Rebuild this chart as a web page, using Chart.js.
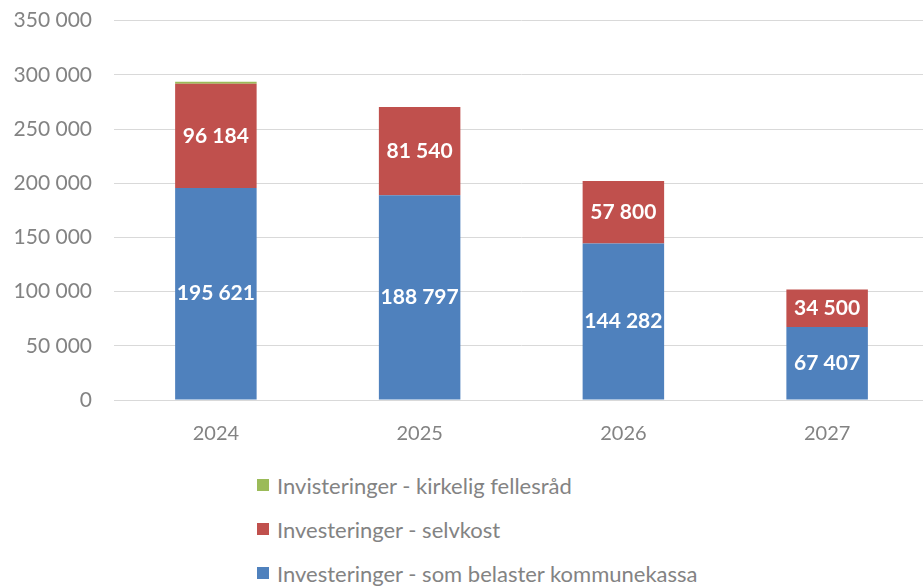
<!DOCTYPE html>
<html>
<head>
<meta charset="utf-8">
<script src="https://cdn.jsdelivr.net/npm/chart.js@4/dist/chart.umd.min.js"></script>
<style>
  html, body { margin: 0; padding: 0; background: #fff; overflow: hidden; }
  #wrap { position: relative; width: 923px; height: 586px; overflow: hidden; }
  #box { position: absolute; left: 0; top: -14px; width: 929px; height: 466px; }
  #legend { position: absolute; left: 257px; top: 463px; font-family: Lato, "Open Sans", sans-serif;
            font-size: 22px; color: #838383; }
  #legend div { height: 44px; display: flex; align-items: center; white-space: nowrap; }
  #legend span.sw { display: inline-block; width: 12px; height: 12px; margin-right: 8px; }
</style>
</head>
<body>
<div id="wrap">
  <div id="box"><canvas id="c"></canvas></div>
  <div id="legend"></div>
</div>
<script>
// values in thousand kroner
const years = ['2024', '2025', '2026', '2027'];
const kommunekassa = [195621, 188797, 144282, 67407];
const selvkost = [96184, 81540, 57800, 34500];
const kirkelig = [1800, 0, 0, 0];

const seriesNames = [
  'Investeringer - som belaster kommunekassa',
  'Investeringer - selvkost',
  'Invisteringer - kirkelig fellesråd',
];
const colors = ['#4f81bd', '#c0504d', '#9bbb59'];

const fmt = (v) => String(Math.round(v)).replace(/\B(?=(\d{3})+(?!\d))/g, ' ');
const FONT = 'Lato, "Open Sans", sans-serif';

// white numbers in the middle of the blue and red blocks
const segmentLabels = {
  id: 'segmentLabels',
  afterDatasetsDraw(chart) {
    const ctx = chart.ctx;
    ctx.save();
    ctx.fillStyle = '#ffffff';
    ctx.font = 'bold 21px ' + FONT;
    ctx.textAlign = 'center';
    ctx.textBaseline = 'middle';
    [0, 1].forEach((di) => {
      const meta = chart.getDatasetMeta(di);
      meta.data.forEach((bar, i) => {
        const v = chart.data.datasets[di].data[i];
        if (!v) return;
        ctx.fillText(fmt(v), bar.x, (bar.y + bar.base) / 2);
      });
    });
    ctx.restore();
  },
};

const datasets = [kommunekassa, selvkost, kirkelig].map((data, i) => ({
  label: seriesNames[i],
  data,
  backgroundColor: colors[i],
  borderWidth: 0,
  barPercentage: 0.4,
  categoryPercentage: 1,
}));

new Chart(document.getElementById('c'), {
  type: 'bar',
  data: { labels: years, datasets },
  plugins: [segmentLabels],
  options: {
    responsive: true,
    maintainAspectRatio: false,
    animation: false,
    layout: { padding: { top: 8, right: 0, left: 0, bottom: 0 } },
    plugins: { legend: { display: false }, tooltip: { enabled: false } },
    scales: {
      x: {
        stacked: true,
        grid: { display: false },
        border: { color: '#d9d9d9', width: 1 },
        ticks: { color: '#838383', font: { family: FONT, size: 20 }, padding: 14 },
        afterFit(s) { s.height = 52; },
      },
      y: {
        stacked: true,
        min: 0,
        max: 350000,
        ticks: {
          stepSize: 50000,
          color: '#838383',
          font: { family: FONT, size: 21 },
          padding: 22,
          callback: (v) => fmt(v),
        },
        grid: { color: '#d9d9d9', drawTicks: false },
        border: { display: false },
        afterFit(s) { s.width = 114; },
      },
    },
  },
});

const legend = document.getElementById('legend');
[2, 1, 0].forEach((i) => {
  const row = document.createElement('div');
  row.innerHTML = '<span class="sw" style="background:' + colors[i] + '"></span>' + seriesNames[i];
  legend.appendChild(row);
});
</script>
</body>
</html>
